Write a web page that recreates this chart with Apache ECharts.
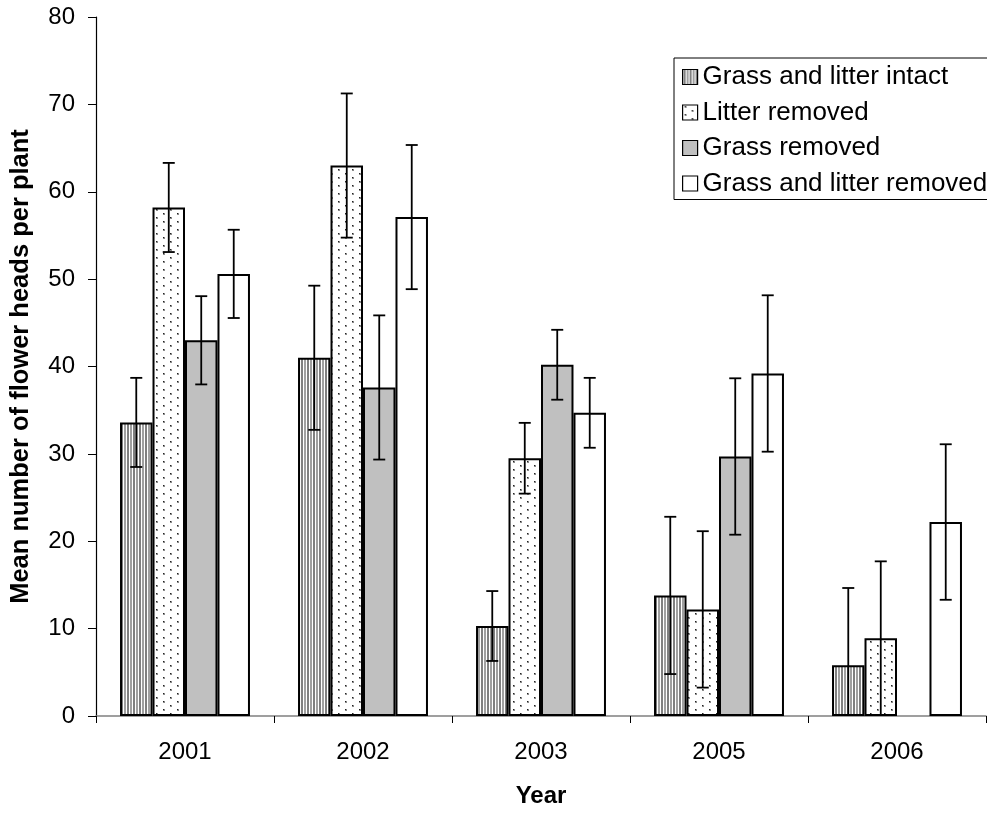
<!DOCTYPE html>
<html>
<head>
<meta charset="utf-8">
<style>
  html, body { margin: 0; padding: 0; background: #fff; }
  #chart { width: 987px; height: 813px; }
</style>
<script src="https://cdn.jsdelivr.net/npm/echarts@6/dist/echarts.min.js"></script>
</head>
<body>
<div id="chart"></div>
<script>
// Survey years and per-treatment means with their error half-widths
const years = ['2001', '2002', '2003', '2005', '2006'];
const yTicks = [0, 10, 20, 30, 40, 50, 60, 70, 80];

const intact      = [33.6, 41.0, 10.3, 13.8, 5.8];
const intactErr   = [5.1, 8.25, 4.0, 9.0, 8.85];
const litterRem   = [58.2, 63.0, 29.5, 12.2, 8.9];
const litterErr   = [5.1, 8.25, 4.05, 8.95, 8.8];
const grassRem    = [43.0, 37.6, 40.2, 29.7, null];
const grassErr    = [5.05, 8.25, 4.0, 8.95, null];
const bothRem     = [50.6, 57.1, 34.7, 39.2, 22.2];
const bothErr     = [5.05, 8.25, 4.0, 8.95, 8.9];

const seriesNames = [
  'Grass and litter intact',
  'Litter removed',
  'Grass removed',
  'Grass and litter removed'
];

const FONT = '"Liberation Sans", Arial, Helvetica, sans-serif';
const CATEGORY_GAP = 0.27;

// Fill patterns for the hatched bars
function stripePattern() {
  const c = document.createElement('canvas');
  c.width = 6; c.height = 6;
  const g = c.getContext('2d');
  g.fillStyle = '#ffffff'; g.fillRect(0, 0, 6, 6);
  g.fillStyle = '#808080'; g.fillRect(1, 0, 2, 6);
  g.fillStyle = '#a0a0a0'; g.fillRect(4, 0, 2, 6);
  return c;
}
function dotPattern() {
  const c = document.createElement('canvas');
  c.width = 14; c.height = 8;
  const g = c.getContext('2d');
  g.fillStyle = '#ffffff'; g.fillRect(0, 0, 14, 8);
  g.fillStyle = '#8a8a8a';
  g.fillRect(2, 1, 2, 2); g.fillRect(9, 5, 2, 2);
  g.fillStyle = '#222';
  g.fillRect(2, 1, 1, 1); g.fillRect(9, 5, 1, 1);
  return c;
}

const fills = [
  { image: stripePattern(), repeat: 'repeat' },
  { image: dotPattern(), repeat: 'repeat' },
  '#c0c0c0',
  '#ffffff'
];

const values = [intact, litterRem, grassRem, bothRem];
const errors = [intactErr, litterErr, grassErr, bothErr];

function barSeries(k) {
  return {
    name: seriesNames[k],
    type: 'bar',
    data: values[k].map(v => (v == null ? '-' : v)),
    barGap: '0%',
    barCategoryGap: (CATEGORY_GAP * 100) + '%',
    itemStyle: { color: fills[k], borderColor: '#000', borderWidth: 2 },
    emphasis: { disabled: true },
    z: 2
  };
}

// Error bars; the lower whisker stops at the baseline and loses its cap there
function errorSeries(k) {
  const data = [];
  values[k].forEach((v, i) => {
    if (v != null) data.push([i, v, errors[k][i]]);
  });
  return {
    name: seriesNames[k] + ' SE',
    type: 'custom',
    data: data,
    z: 5,
    silent: true,
    renderItem: function (params, api) {
      const xi = api.value(0), v = api.value(1), e = api.value(2);
      const band = api.size([1, 0])[0];
      const bw = band * (1 - CATEGORY_GAP) / 4;
      const cx = api.coord([xi, v])[0] + (k - 1.5) * bw;
      const low = v - e;
      const yt = api.coord([xi, v + e])[1];
      const yb = api.coord([xi, Math.max(low, 0)])[1];
      const half = 6;
      const st = { stroke: '#000', lineWidth: 1.8 };
      const parts = [
        { type: 'line', shape: { x1: cx, y1: yt, x2: cx, y2: yb }, style: st },
        { type: 'line', shape: { x1: cx - half, y1: yt, x2: cx + half, y2: yt }, style: st }
      ];
      if (low > 0.5) {
        parts.push({ type: 'line', shape: { x1: cx - half, y1: yb, x2: cx + half, y2: yb }, style: st });
      }
      return { type: 'group', children: parts };
    }
  };
}

const chart = echarts.init(document.getElementById('chart'), null, { renderer: 'canvas' });

chart.setOption({
  animation: false,
  backgroundColor: '#ffffff',
  textStyle: { fontFamily: FONT },
  grid: { left: 93, right: 1, top: 17, bottom: 97, containLabel: false },
  legend: {
    orient: 'vertical',
    left: 674,
    top: 58,
    data: seriesNames,
    icon: 'rect',
    itemWidth: 15,
    itemHeight: 15,
    itemGap: 9.5,
    padding: [6, 40, 3, 8],
    borderColor: '#000',
    borderWidth: 1,
    backgroundColor: '#fff',
    selectedMode: false,
    itemStyle: { borderWidth: 1.2, borderColor: '#000' },
    textStyle: { fontFamily: FONT, fontSize: 26, color: '#000' }
  },
  xAxis: {
    type: 'category',
    data: years,
    name: 'Year',
    nameLocation: 'middle',
    nameGap: 68,
    nameTextStyle: { fontFamily: FONT, fontSize: 24, fontWeight: 'bold', color: '#000' },
    axisLine: { lineStyle: { color: '#808080', width: 1.5 } },
    axisTick: { show: true, length: 7, lineStyle: { color: '#000', width: 1 } },
    axisLabel: { fontFamily: FONT, fontSize: 24, color: '#000', margin: 24 },
    splitLine: { show: false }
  },
  yAxis: {
    type: 'value',
    min: yTicks[0],
    max: yTicks[yTicks.length - 1],
    interval: yTicks[1] - yTicks[0],
    name: 'Mean number of flower heads per plant',
    nameLocation: 'middle',
    nameGap: 62,
    nameRotate: 90,
    nameTextStyle: { fontFamily: FONT, fontSize: 25.5, fontWeight: 'bold', color: '#000' },
    axisLine: { show: true, lineStyle: { color: '#000', width: 1.2 } },
    axisTick: { show: true, length: 8, lineStyle: { color: '#000', width: 1 } },
    axisLabel: { fontFamily: FONT, fontSize: 24, color: '#000', margin: 21 },
    splitLine: { show: false }
  },
  series: [
    barSeries(0), barSeries(1), barSeries(2), barSeries(3),
    errorSeries(0), errorSeries(1), errorSeries(2), errorSeries(3)
  ]
});
</script>
</body>
</html>
